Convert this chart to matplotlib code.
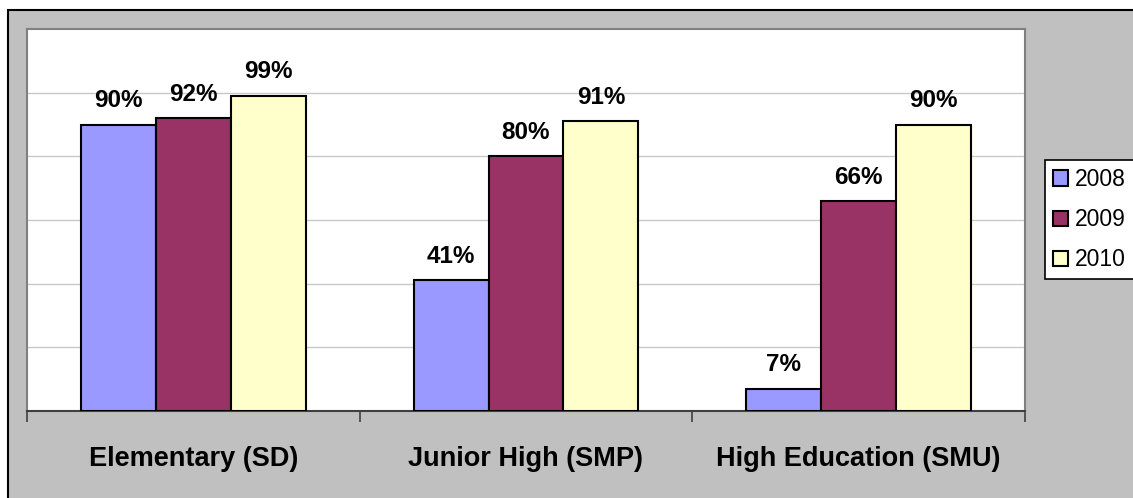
import numpy as np
import matplotlib.pyplot as plt
from matplotlib.patches import Rectangle

plt.rcParams['font.family'] = ['Liberation Sans', 'DejaVu Sans']

categories = ["Elementary (SD)", "Junior High (SMP)", "High Education (SMU)"]
years = ["2008", "2009", "2010"]
values = {
    "2008": [90, 41, 7],
    "2009": [92, 80, 66],
    "2010": [99, 91, 90],
}
colors = ["#9999FF", "#993366", "#FFFFCC"]

fig = plt.figure(figsize=(11.33, 4.98), dpi=100)
fig.patch.set_facecolor("white")

# gray chart area with black frame
W, H = 1133, 498
fig.patches.append(Rectangle((8 / W, -0.05), 1.2, 1 - 10 / H + 0.05,
                             transform=fig.transFigure, facecolor="#C0C0C0",
                             edgecolor="black", linewidth=1.5, zorder=-5))

ax = fig.add_axes([27 / W, 1 - 411 / H, (1025 - 27) / W, (411 - 29) / H])
ax.set_facecolor("white")

x = np.arange(len(categories))
width = 0.225
for i, (yr, col) in enumerate(zip(years, colors)):
    vals = values[yr]
    pos = x + (i - 1) * width
    ax.bar(pos, vals, width=width, color=col, edgecolor="black",
           linewidth=1.5, zorder=3, label=yr)
    for px, v in zip(pos, vals):
        ax.annotate(f"{v}%", (px, v), xytext=(0, 12.5), textcoords="offset points",
                    ha="center", va="baseline", fontsize=17.5, fontweight="bold")

ax.set_xlim(-0.5, 2.5)
ax.set_ylim(0, 120)
ax.set_yticks(np.arange(20, 120, 20))
ax.yaxis.grid(True, color="#C8C8C8", linewidth=1, zorder=0)
ax.tick_params(axis="y", length=0, labelleft=False)

ax.set_xticks(x)
ax.set_xticklabels(categories, fontsize=19.5, fontweight="bold")
ax.set_xticks([-0.5, 0.5, 1.5, 2.5], minor=True)
ax.tick_params(axis="x", which="major", length=0, pad=25)
ax.tick_params(axis="x", which="minor", length=8, width=1.2, color="#404040")

for s in ["left", "top", "right"]:
    ax.spines[s].set_color("#808080")
    ax.spines[s].set_linewidth(1.5)
ax.spines["bottom"].set_color("#404040")
ax.spines["bottom"].set_linewidth(1.5)

leg = fig.legend(loc="upper left", bbox_to_anchor=(1045 / W, 1 - 160 / H),
                 fontsize=16.5, frameon=True, fancybox=False, framealpha=1,
                 handlelength=0.65, handleheight=0.65, handletextpad=0.3,
                 labelspacing=0.75, borderpad=0.35, borderaxespad=0)
leg.get_frame().set_edgecolor("black")
leg.get_frame().set_linewidth(1.2)

fig.savefig("out.png", dpi=100)
